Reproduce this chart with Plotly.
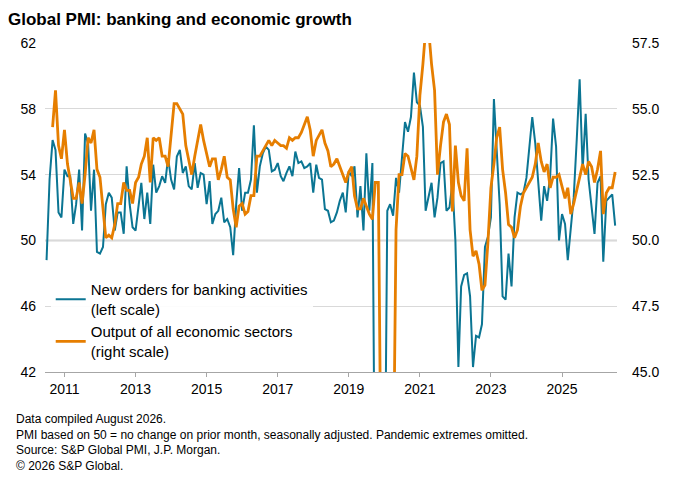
import pandas as pd
import plotly.graph_objects as go

# New orders for banking activities (left scale), monthly; 30 = pandemic extreme (clipped)
BANK = [48.8, 53.7, 56.1, 55.5, 51.7, 51.4, 54.3, 53.9, 53.9, 51.0, 52.2, 54.3, 50.6, 56.5, 55.9,
        51.8, 54.3, 49.3, 49.2, 49.6, 52.2, 52.9, 52.6, 50.6, 51.7, 51.7, 50.4, 54.5, 52.2, 50.8,
        50.6, 52.2, 53.5, 51.3, 52.9, 51.0, 54.6, 52.9, 53.3, 53.9, 53.5, 55.0, 53.7, 53.1, 55.1,
        55.5, 54.1, 54.5, 53.3, 53.1, 54.7, 53.2, 54.1, 54.0, 52.2, 53.6, 51.0, 51.6, 51.8, 52.6,
        51.1, 51.3, 50.8, 49.1, 52.2, 54.4, 51.8, 52.9, 52.9, 53.7, 57.0, 52.9, 54.5, 55.3, 55.7,
        55.5, 54.2, 54.3, 54.7, 53.9, 53.6, 54.1, 54.5, 53.9, 55.4, 54.7, 54.8, 54.4, 54.5, 54.7,
        52.9, 54.6, 53.8, 53.7, 51.9, 51.8, 51.1, 51.2, 51.7, 52.4, 52.9, 51.7, 54.2, 53.9, 54.5,
        51.4, 53.3, 50.6, 55.3, 51.8, 54.7, 30.0, 30.0, 30.0, 30.0, 51.8, 52.2, 51.5, 53.8, 52.9,
        55.1, 57.2, 56.6, 57.5, 60.2, 58.4, 58.2, 56.9, 51.8, 52.6, 53.5, 51.4, 52.6, 54.7, 54.8,
        51.8, 52.0, 53.5, 50.0, 42.3, 47.2, 47.9, 48.0, 46.6, 42.3, 44.2, 44.1, 44.9, 49.6, 50.2,
        51.4, 58.6, 55.1, 52.2, 46.6, 46.4, 49.2, 47.2, 51.4, 52.9, 52.8, 52.9, 53.8, 55.7, 57.5,
        55.9, 53.3, 51.2, 53.3, 52.4, 53.9, 57.4, 55.7, 50.0, 51.6, 51.0, 48.8, 50.6, 52.6, 56.1,
        59.8, 54.3, 57.7, 53.7, 52.0, 50.4, 53.5, 53.9, 48.7, 52.4, 52.6, 52.8, 50.9]

# Output of all economic sectors (right scale), monthly; 40 = pandemic extreme (clipped)
OUTPUT = [54.3, 55.7, 53.6, 53.1, 54.2, 52.9, 52.3, 51.6, 51.6, 52.2, 51.4, 52.5, 53.9, 53.7, 54.2,
          52.7, 52.4, 51.2, 50.1, 50.2, 50.1, 50.6, 51.4, 51.4, 52.2, 51.9, 51.9, 51.4, 52.2, 52.4,
          52.9, 53.2, 53.9, 52.2, 53.9, 53.8, 53.9, 53.2, 53.2, 52.8, 54.1, 55.2, 55.2, 55.0, 54.8,
          53.6, 53.0, 52.5, 53.2, 53.8, 54.4, 53.8, 53.3, 52.8, 53.1, 53.1, 52.3, 52.7, 53.2, 52.4,
          52.3, 51.2, 50.5, 51.3, 51.4, 51.0, 51.1, 51.7, 51.7, 53.2, 53.2, 53.4, 53.6, 53.8, 53.6,
          53.8, 53.7, 53.6, 53.6, 53.5, 53.9, 53.8, 53.9, 53.9, 54.1, 54.4, 54.7, 54.2, 53.2, 53.8,
          54.0, 54.2, 53.7, 53.4, 52.8, 52.9, 53.1, 52.8, 52.5, 52.2, 52.6, 52.8, 51.7, 51.2, 51.2,
          51.6, 51.3, 51.0, 50.8, 52.2, 52.2, 40.0, 40.0, 40.0, 40.0, 40.0, 50.4, 52.5, 52.5, 53.3,
          53.2, 52.8, 52.3, 53.2, 55.5, 56.7, 58.0, 58.0, 56.7, 55.7, 52.5, 53.6, 54.5, 54.8, 54.4,
          51.1, 53.6, 52.2, 51.7, 51.5, 53.5, 50.4, 49.4, 49.6, 49.1, 48.1, 48.3, 49.9, 52.0, 52.9,
          53.9, 54.3, 52.7, 51.8, 50.6, 50.5, 50.1, 50.4, 51.3, 51.8, 52.0, 52.2, 52.4, 52.9, 53.7,
          53.0, 52.6, 52.9, 52.0, 52.4, 52.4, 52.5, 52.0, 51.6, 52.0, 51.0, 51.4, 51.9, 52.4, 52.9,
          52.5, 53.0, 52.8, 52.2, 52.7, 53.4, 51.0, 51.8, 52.0, 52.0, 52.6]

LEFT_TICKS = [42, 46, 50, 54, 58, 62]
RIGHT_TICKS = [45.0, 47.5, 50.0, 52.5, 55.0, 57.5]
YEARS = [2011, 2013, 2015, 2017, 2019, 2021, 2023, 2025]

BLUE = "#0b7593"
ORANGE = "#e67e00"
END = "2026-07-01"


def months(n):
    return pd.date_range(end=END, periods=n, freq="MS")


fig = go.Figure()
fig.add_trace(go.Scatter(
    x=months(len(BANK)), y=BANK, mode="lines", yaxis="y",
    name="New orders for banking activities<br>(left scale)",
    line=dict(color=BLUE, width=2),
))
fig.add_trace(go.Scatter(
    x=months(len(OUTPUT)), y=OUTPUT, mode="lines", yaxis="y2",
    name="Output of all economic sectors<br>(right scale)",
    line=dict(color=ORANGE, width=2.8),
))

fig.add_shape(type="line", xref="paper", x0=0, x1=1, yref="y", y0=50, y1=50,
              line=dict(color="#a6a6a6", width=1.5), layer="below")

notes = ("Data compiled August 2026.<br>"
         "PMI based on 50 = no change on prior month, seasonally adjusted. Pandemic extremes omitted.<br>"
         "Source: S&P Global PMI, J.P. Morgan.<br>"
         "© 2026 S&P Global.")
fig.add_annotation(text=notes, xref="paper", yref="paper", x=-0.054, y=-0.115,
                   xanchor="left", yanchor="top", align="left", showarrow=False,
                   font=dict(size=12, color="#000"))

fig.update_layout(
    width=692, height=485,
    paper_bgcolor="white", plot_bgcolor="white",
    font=dict(family="Liberation Sans, Arial", size=14, color="#000"),
    title=dict(text="<b>Global PMI: banking and economic growth</b>", x=0.0, y=0.99,
               xanchor="left", yanchor="top", font=dict(size=17)),
    margin=dict(l=35, r=83, t=35, b=121),
    showlegend=True,
    legend=dict(x=0.01, y=0.30, xanchor="left", yanchor="top", bgcolor="rgba(255,255,255,0.9)",
                font=dict(size=15), tracegroupgap=6),
    xaxis=dict(type="date", range=["2010-06-15", "2026-07-20"],
               tickvals=[f"{y}-01-01" for y in YEARS], ticktext=[str(y) for y in YEARS],
               showgrid=False, showline=True, linecolor="#a6a6a6", ticks="outside",
               ticklen=4, tickcolor="#a6a6a6"),
    yaxis=dict(range=[42, 62], tickvals=LEFT_TICKS, showgrid=True, gridcolor="#d9d9d9",
               zeroline=False, ticks="", ticklabelstandoff=8),
    yaxis2=dict(range=[45, 57.5], tickvals=RIGHT_TICKS,
                ticktext=[f"{v:.1f}" for v in RIGHT_TICKS], overlaying="y", side="right",
                showgrid=False, zeroline=False, ticklabelstandoff=14),
)

fig.write_html("out.html")
